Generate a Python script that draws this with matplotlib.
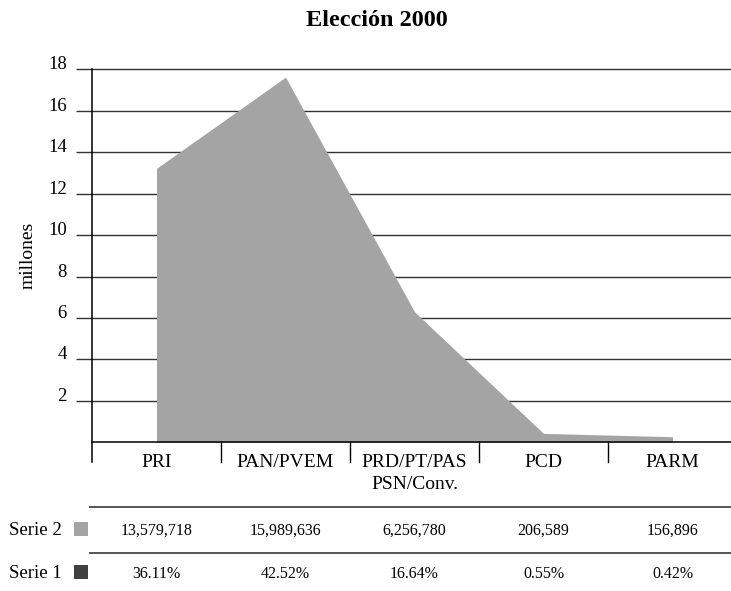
import matplotlib
matplotlib.use("Agg")
import matplotlib.pyplot as plt
from matplotlib.lines import Line2D
from matplotlib.patches import Rectangle
from matplotlib.transforms import blended_transform_factory

# ---- data ----
categories = ["PRI", "PAN/PVEM", "PRD/PT/PAS\nPSN/Conv.", "PCD", "PARM"]
serie2_millions = [13.22, 17.62, 6.30, 0.43, 0.27]   # plotted area (millones)
serie2_labels = ["13,579,718", "15,989,636", "6,256,780", "206,589", "156,896"]
serie1_labels = ["36.11%", "42.52%", "16.64%", "0.55%", "0.42%"]
y_ticks = [2, 4, 6, 8, 10, 12, 14, 16, 18]
series_names = ["Serie 2", "Serie 1"]
series_colors = ["#a4a4a4", "#404040"]
title = "Elección 2000"
y_label = "millones"

W, H = 731, 591
FONT = "Liberation Serif"
plt.rcParams["font.family"] = [FONT, "DejaVu Serif"]

fig = plt.figure(figsize=(W / 100, H / 100), dpi=100)

# axes: x=-0.5 at px 92, x=4.5 at px 737; y=0 at px 442.3, y=18 at px 69.3
x0_px, x1_px = 92, 737
y0_px, y18_px = 442.3, 69.3
ax = fig.add_axes([x0_px / W, 1 - y0_px / H, (x1_px - x0_px) / W, (y0_px - y18_px) / H])
ax.set_xlim(-0.5, 4.5)
ax.set_ylim(0, 18)

xs = list(range(len(categories)))
grid_color = "#333333"

# horizontal grid
for t in y_ticks:
    ax.axhline(t, color=grid_color, lw=1.0, zorder=1, clip_on=False)

# filled area
ax.fill_between(xs, serie2_millions, 0, color=series_colors[0], lw=0, zorder=2)

# spines
for s in ["top", "right", "left"]:
    ax.spines[s].set_visible(False)
ax.spines["bottom"].set_color("black")
ax.spines["bottom"].set_linewidth(1.1)
ax.spines["bottom"].set_zorder(3)

px_per_unit = (y0_px - y18_px) / 18.0
below = -(462 - y0_px) / px_per_unit

# left axis line and category separators
ax.add_line(Line2D([-0.5, -0.5], [18, below], color="black", lw=1.1, clip_on=False, zorder=3))
for sx in [0.5, 1.5, 2.5, 3.5]:
    ax.add_line(Line2D([sx, sx], [0, below], color="black", lw=1.0, clip_on=False, zorder=3))

# y ticks
ax.set_yticks(y_ticks)
ax.set_yticklabels([str(t) for t in y_ticks], fontsize=13.5, family=[FONT])
ax.tick_params(axis="y", length=11.5, width=1.0, color=grid_color, pad=6.5)
for lab in ax.get_yticklabels():
    lab.set_verticalalignment("baseline")
ax.set_xticks([])

# category labels
line_gap = 22 / px_per_unit
base_y = -(466.7 - y0_px) / px_per_unit
for x, cat in zip(xs, categories):
    for i, part in enumerate(cat.split("\n")):
        ax.text(x, base_y - i * line_gap, part, ha="center", va="baseline",
                fontsize=14, clip_on=False)

# y label
fig.text(28 / W, 1 - 255 / H, y_label, rotation=90, ha="center", va="center", fontsize=14)

# title
fig.text(376.5 / W, 1 - 25.5 / H, title, ha="center", va="baseline",
         fontsize=17.5, fontweight="bold")

# data table
def fy(py):
    return 1 - py / H

for py in [506.7, 553]:
    fig.add_artist(Line2D([90 / W, 1.0], [fy(py), fy(py)], color="#555555", lw=1.4))

tr = blended_transform_factory(ax.transData, fig.transFigure)
rows = [(series_names[0], series_colors[0], serie2_labels, 528.5),
        (series_names[1], series_colors[1], serie1_labels, 571.5)]
for name, col, labels, cy in rows:
    fig.text(62 / W, fy(cy), name, ha="right", va="center_baseline", fontsize=13.5)
    fig.add_artist(Rectangle((74 / W, fy(cy + 7)), 14 / W, 14 / H,
                             facecolor=col, edgecolor="none", transform=fig.transFigure))
    for x, lab in zip(xs, labels):
        fig.text(x, fy(cy), lab, transform=tr, ha="center", va="center_baseline", fontsize=11.5)

fig.savefig("out.png", dpi=100)
